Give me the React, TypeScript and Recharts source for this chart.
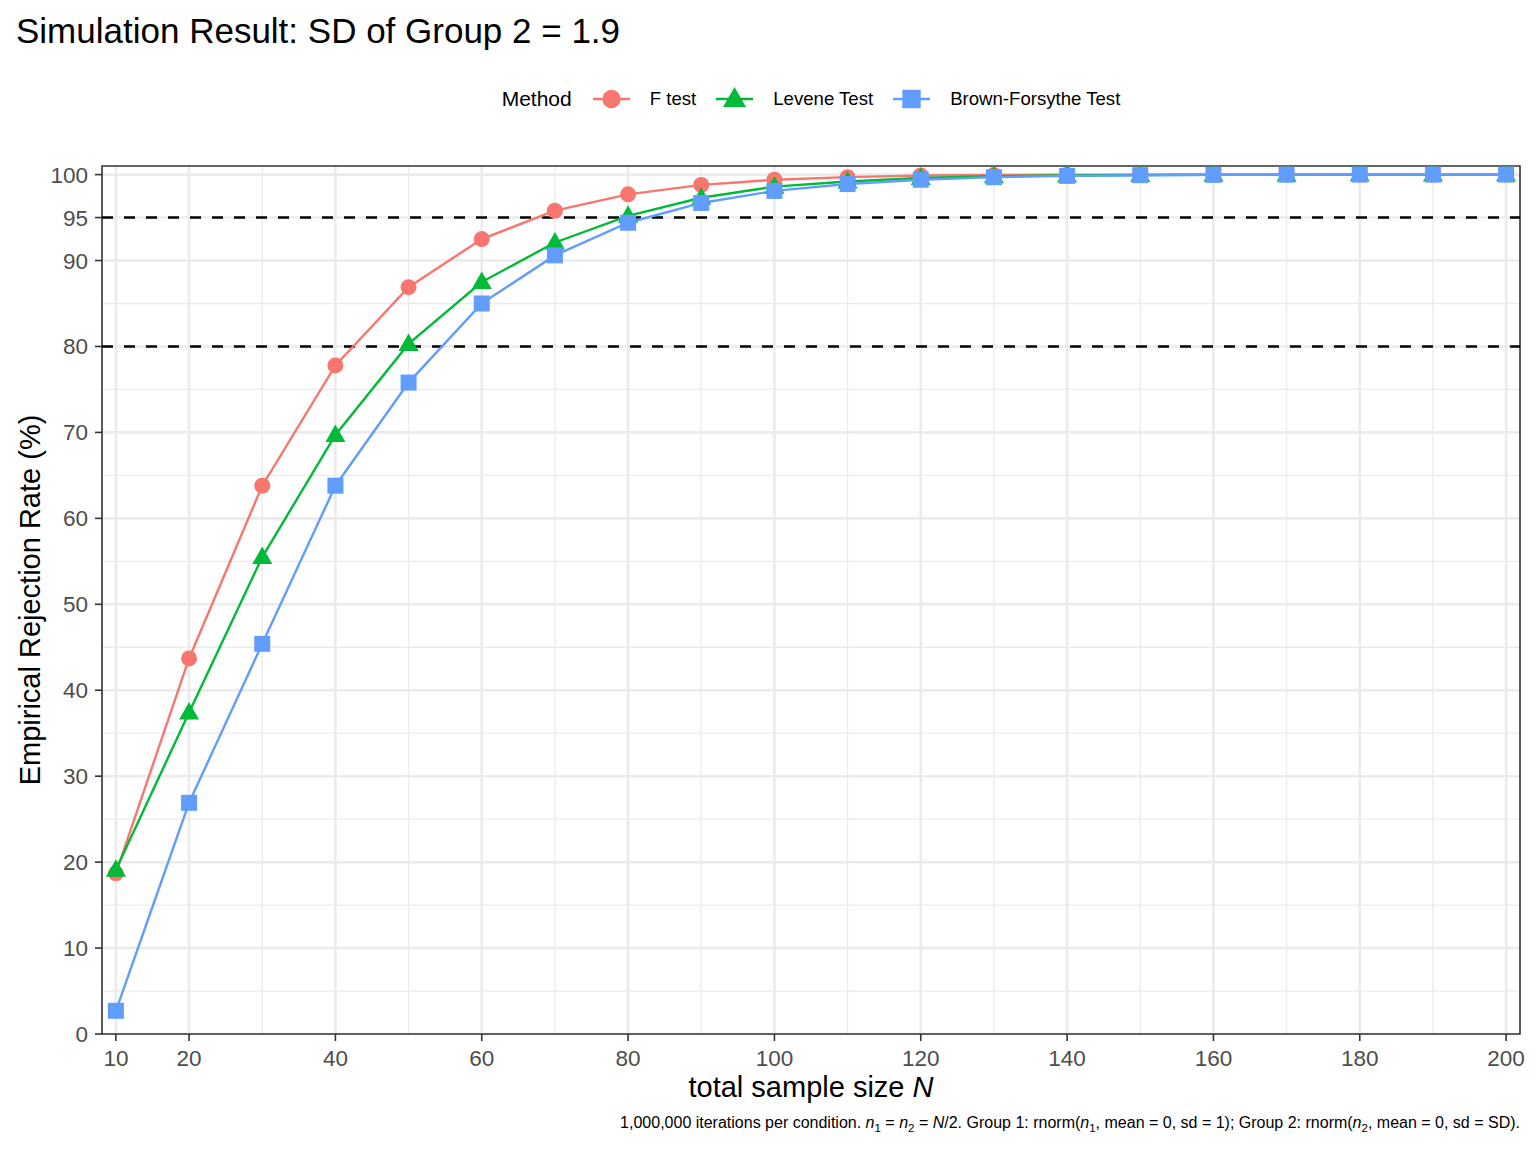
import React from 'react';
import { LineChart, Line, XAxis, YAxis, CartesianGrid, ReferenceLine, ReferenceArea, Legend, Label } from 'recharts';

// total sample size N
const sampleSizes = [10, 20, 30, 40, 50, 60, 70, 80, 90, 100, 110, 120, 130, 140, 150, 160, 170, 180, 190, 200];

// empirical rejection rate (%) per method
const fTest = [18.7, 43.7, 63.8, 77.8, 86.9, 92.5, 95.8, 97.7, 98.8, 99.4, 99.7, 99.9, 99.95, 99.98, 99.99, 100, 100, 100, 100, 100];
const leveneTest = [19.1, 37.4, 55.5, 69.7, 80.3, 87.5, 92.1, 95.2, 97.3, 98.6, 99.2, 99.6, 99.8, 99.9, 99.95, 99.98, 99.99, 100, 100, 100];
const brownForsythe = [2.7, 26.9, 45.4, 63.8, 75.8, 85.0, 90.6, 94.4, 96.7, 98.1, 98.9, 99.4, 99.7, 99.85, 99.93, 99.97, 99.99, 100, 100, 100];

const xTicks = [10, 20, 40, 60, 80, 100, 120, 140, 160, 180, 200];
const xMinor = [30, 50, 70, 90, 110, 130, 150, 170, 190];
const yTicks = [0, 10, 20, 30, 40, 50, 60, 70, 80, 90, 95, 100];
const yMinor = [5, 15, 25, 35, 45, 55, 65, 75, 85];
const powerLines = [80, 95];

const data = sampleSizes.map((n, i) => ({
  n,
  f: fTest[i],
  lev: leveneTest[i],
  bf: brownForsythe[i],
}));

const RED = '#F8766D';
const GREEN = '#00BA38';
const BLUE = '#619CFF';

const marker = (shape: string, color: string, cx: number, cy: number, s = 1, key?: React.Key) => {
  if (shape === 'circle') return <circle key={key} cx={cx} cy={cy} r={8 * s} fill={color} />;
  if (shape === 'triangle')
    return (
      <polygon
        key={key}
        points={`${cx},${cy - 10.5 * s} ${cx - 10 * s},${cy + 7 * s} ${cx + 10 * s},${cy + 7 * s}`}
        fill={color}
      />
    );
  return <rect key={key} x={cx - 8 * s} y={cy - 8 * s} width={16 * s} height={16 * s} fill={color} />;
};

const dotFor = (shape: string, color: string) => (props: any) =>
  marker(shape, color, props.cx, props.cy, 1, `${shape}-${props.index}`);

const series = [
  { key: 'f', name: 'F test', color: RED, shape: 'circle' },
  { key: 'lev', name: 'Levene Test', color: GREEN, shape: 'triangle' },
  { key: 'bf', name: 'Brown-Forsythe Test', color: BLUE, shape: 'square' },
];

const LegendBox = () => (
  <div style={{ display: 'flex', justifyContent: 'center', alignItems: 'center', height: 30 }}>
    <span style={{ fontSize: 21, color: '#000', marginRight: 21 }}>Method</span>
    {series.map((s, i) => (
      <span key={s.key} style={{ display: 'flex', alignItems: 'center', marginRight: i < series.length - 1 ? 20 : 0 }}>
        <svg width={37} height={26}>
          <line x1={0} y1={13} x2={37} y2={13} stroke={s.color} strokeWidth={2.6} />
          {marker(s.shape, s.color, 18.5, 13, 1.15)}
        </svg>
        <span style={{ fontSize: 18.6, color: '#000', marginLeft: 20 }}>{s.name}</span>
      </span>
    ))}
  </div>
);

// caption pieces: [text, style] where style is '', 'i' (italic) or 'sub'
const captionParts: [string, string][] = [
  ['1,000,000 iterations per condition. ', ''],
  ['n', 'i'], ['1', 'sub'], [' = ', ''], ['n', 'i'], ['2', 'sub'], [' = ', ''], ['N', 'i'],
  ['/2. Group 1: rnorm(', ''], ['n', 'i'], ['1', 'sub'], [', mean = 0, sd = 1); Group 2: rnorm(', ''],
  ['n', 'i'], ['2', 'sub'], [', mean = 0, sd = SD).', ''],
];

const XTitle = (props: any) => {
  const vb = props.viewBox || { x: 102, y: 1034, width: 1418, height: 118 };
  const cx = vb.x + vb.width / 2;
  const right = vb.x + vb.width;
  let prevSub = false;
  return (
    <g>
      <text x={cx} y={vb.y + 63} textAnchor="middle" fontSize={29} fill="#000">
        total sample size <tspan fontStyle="italic">N</tspan>
      </text>
      <text x={right} y={vb.y + 94} textAnchor="end" fontSize={16} fill="#000">
        {captionParts.map(([t, st], i) => {
          const isSub = st === 'sub';
          const dy = isSub ? 4 : prevSub ? -4 : 0;
          prevSub = isSub;
          return (
            <tspan
              key={i}
              dy={dy}
              fontSize={isSub ? 11.5 : undefined}
              fontStyle={st === 'i' ? 'italic' : undefined}
            >
              {t}
            </tspan>
          );
        })}
      </text>
    </g>
  );
};

const YTitle = (props: any) => {
  const vb = props.viewBox || { x: 0, y: 166, width: 102, height: 868 };
  const x = vb.x + 40;
  const y = vb.y + vb.height / 2;
  return (
    <text x={x} y={y} transform={`rotate(-90, ${x}, ${y})`} textAnchor="middle" fontSize={29} fill="#000">
      Empirical Rejection Rate (%)
    </text>
  );
};

export default function App() {
  return (
    <div style={{ position: 'relative', width: 1536, height: 1152, background: '#fff', fontFamily: '"Liberation Sans", Arial, sans-serif' }}>
      <style>{'body{margin:0}'}</style>
      <div style={{ position: 'absolute', left: 16, top: 13, fontSize: 35, lineHeight: '35px', color: '#000', whiteSpace: 'nowrap' }}>
        Simulation Result: SD of Group 2 = 1.9
      </div>
      <LineChart width={1536} height={1152} data={data} margin={{ top: 166, right: 16, bottom: 0, left: 0 }}>
        <CartesianGrid stroke="#EBEBEB" strokeWidth={1.3} horizontalValues={yMinor} verticalValues={xMinor} />
        <CartesianGrid stroke="#EBEBEB" strokeWidth={2.6} horizontalValues={yTicks} verticalValues={xTicks} />
        <XAxis
          dataKey="n"
          type="number"
          domain={[8.1, 201.9]}
          ticks={xTicks}
          interval={0}
          allowDataOverflow
          height={118}
          axisLine={false}
          tickSize={7}
          tickMargin={9}
          tick={{ fill: '#4D4D4D', fontSize: 22.5 }}
          tickLine={{ stroke: '#333333', strokeWidth: 1.6 }}
        >
          <Label content={<XTitle />} />
        </XAxis>
        <YAxis
          type="number"
          domain={[0, 101]}
          ticks={yTicks}
          interval={0}
          allowDataOverflow
          width={102}
          axisLine={false}
          tickSize={7}
          tickMargin={7}
          tick={{ fill: '#4D4D4D', fontSize: 22.5 }}
          tickLine={{ stroke: '#333333', strokeWidth: 1.6 }}
        >
          <Label content={<YTitle />} />
        </YAxis>
        {powerLines.map((v) => (
          <ReferenceLine key={v} y={v} stroke="#000" strokeWidth={2.6} strokeDasharray="11 11" />
        ))}
        {series.map((s) => (
          <Line
            key={s.key}
            dataKey={s.key}
            name={s.name}
            type="linear"
            stroke={s.color}
            strokeWidth={2.4}
            dot={dotFor(s.shape, s.color)}
            activeDot={false}
            isAnimationActive={false}
          />
        ))}
        <ReferenceArea x1={8.1} x2={201.9} y1={0} y2={101} fill="none" fillOpacity={0} stroke="#333333" strokeWidth={1.6} />
        <Legend
          verticalAlign="middle"
          align="center"
          layout="horizontal"
          wrapperStyle={{ top: 84, left: 102, width: 1418, height: 30 }}
          content={() => <LegendBox />}
        />
      </LineChart>
    </div>
  );
}
